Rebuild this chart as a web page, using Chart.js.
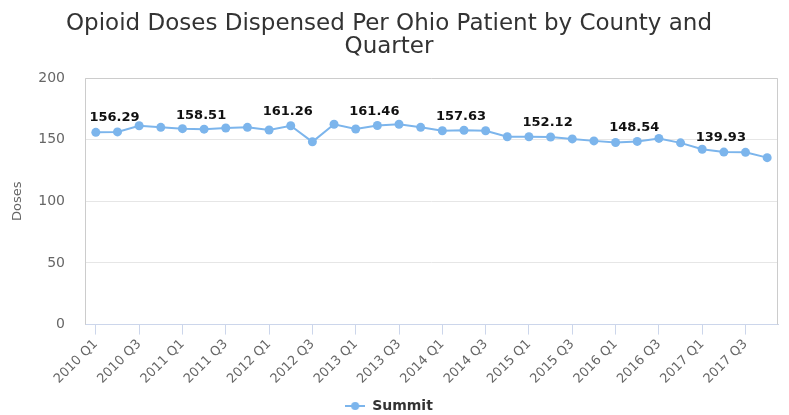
<!DOCTYPE html>
<html lang="en">
<head>
    <meta charset="UTF-8">
    <script src="https://cdn.jsdelivr.net/npm/chart.js@4.4.0/dist/chart.umd.min.js"></script>
    <title>Opioid Doses</title>
    <style>
        body { margin: 0; background: #fff; }
        #wrap { width: 789px; height: 415px; }
    </style>
</head>
<body>
<div id="wrap"><canvas id="container"></canvas></div>

<script>
    const quarters = [
        '2010 Q1', '2010 Q2', '2010 Q3', '2010 Q4',
        '2011 Q1', '2011 Q2', '2011 Q3', '2011 Q4',
        '2012 Q1', '2012 Q2', '2012 Q3', '2012 Q4',
        '2013 Q1', '2013 Q2', '2013 Q3', '2013 Q4',
        '2014 Q1', '2014 Q2', '2014 Q3', '2014 Q4',
        '2015 Q1', '2015 Q2', '2015 Q3', '2015 Q4',
        '2016 Q1', '2016 Q2', '2016 Q3', '2016 Q4',
        '2017 Q1', '2017 Q2', '2017 Q3', '2017 Q4'
    ];
    const summit = [
        155.9, 156.29, 161.3, 160.0,
        158.9, 158.51, 159.4, 160.0,
        157.8, 161.26, 148.2, 162.5,
        158.6, 161.46, 162.5, 160.0,
        157.2, 157.63, 157.2, 152.3,
        152.3, 152.12, 150.6, 149.0,
        147.7, 148.54, 151.0, 147.4,
        142.2, 139.93, 139.7, 135.4
    ];
    // quarters that carry a value label above the point
    const labelledQuarters = ['2010 Q2', '2011 Q2', '2012 Q2', '2013 Q2', '2014 Q2', '2015 Q2', '2016 Q2', '2017 Q2'];
    const yTicks = [0, 50, 100, 150, 200];

    const lineColor = '#7cb5ec';
    const font = 'DejaVu Sans';

    // legend symbol: short line with a dot, like the original
    const legendIcon = document.createElement('canvas');
    legendIcon.width = 20;
    legendIcon.height = 10;
    const ic = legendIcon.getContext('2d');
    ic.strokeStyle = lineColor;
    ic.lineWidth = 2;
    ic.beginPath();
    ic.moveTo(0, 5);
    ic.lineTo(20, 5);
    ic.stroke();
    ic.fillStyle = lineColor;
    ic.beginPath();
    ic.arc(10, 5, 4, 0, Math.PI * 2);
    ic.fill();

    const plotBox = {
        id: 'plotBox',
        beforeDatasetsDraw(chart) {
            const a = chart.chartArea;
            const c = chart.ctx;
            c.save();
            c.strokeStyle = '#cccccc';
            c.lineWidth = 1;
            c.beginPath();
            c.moveTo(a.left + 0.5, a.bottom);
            c.lineTo(a.left + 0.5, a.top + 0.5);
            c.lineTo(a.right - 0.5, a.top + 0.5);
            c.lineTo(a.right - 0.5, a.bottom);
            c.stroke();
            c.restore();
        }
    };

    const valueLabels = {
        id: 'valueLabels',
        afterDatasetsDraw(chart) {
            const meta = chart.getDatasetMeta(0);
            const c = chart.ctx;
            c.save();
            c.font = 'bold 13px ' + font;
            c.fillStyle = '#111';
            c.textAlign = 'center';
            c.textBaseline = 'middle';
            labelledQuarters.forEach(q => {
                const i = quarters.indexOf(q);
                const pt = meta.data[i];
                c.fillText(summit[i].toFixed(2), pt.x - 3, pt.y - 14);
            });
            c.restore();
        }
    };

    const ctx = document.getElementById('container').getContext('2d');
    const myChart = new Chart(ctx, {
        type: 'line',
        data: {
            labels: quarters,
            datasets: [{
                label: 'Summit',
                data: summit,
                borderColor: lineColor,
                backgroundColor: lineColor,
                borderWidth: 2,
                pointRadius: 4.5,
                pointHoverRadius: 5,
                pointBorderWidth: 0,
                tension: 0
            }]
        },
        options: {
            responsive: true,
            maintainAspectRatio: false,
            animation: false,
            layout: { padding: { left: 0, right: 11, top: 0, bottom: -8 } },
            plugins: {
                title: {
                    display: true,
                    text: ['Opioid Doses Dispensed Per Ohio Patient by County and', 'Quarter'],
                    color: '#333333',
                    font: { family: font, size: 23, weight: 'normal', lineHeight: 1.0 },
                    padding: { top: 13, bottom: 19 }
                },
                legend: {
                    position: 'bottom',
                    labels: {
                        usePointStyle: true,
                        pointStyle: legendIcon,
                        pointStyleWidth: 20,
                        color: '#333333',
                        font: { family: font, size: 14, weight: 'bold' },
                        padding: 2
                    }
                },
                tooltip: { enabled: false }
            },
            scales: {
                x: {
                    offset: true,
                    grid: {
                        drawOnChartArea: false,
                        drawTicks: true,
                        tickLength: 10,
                        tickColor: c => (c.index % 2 === 0 ? '#ccd6eb' : 'rgba(0,0,0,0)')
                    },
                    border: { color: '#ccd6eb', width: 1 },
                    ticks: {
                        autoSkip: false,
                        maxRotation: 45,
                        minRotation: 45,
                        color: '#666666',
                        font: { family: font, size: 13 },
                        padding: 2,
                        callback: function (value, index) {
                            return index % 2 === 0 ? this.getLabelForValue(value) : '';
                        }
                    },
                    // empty title only used as spacing above the legend
                    title: {
                        display: true,
                        text: ' ',
                        font: { size: 5, lineHeight: 1 },
                        padding: { top: 0, bottom: 3 }
                    }
                },
                y: {
                    min: 0,
                    max: 200,
                    afterBuildTicks: axis => { axis.ticks = yTicks.map(v => ({ value: v })); },
                    afterFit: axis => { axis.width = 85; },
                    grid: { color: '#e6e6e6', drawTicks: false },
                    border: { display: false },
                    ticks: {
                        color: '#666666',
                        font: { family: font, size: 14 },
                        padding: 20
                    },
                    title: {
                        display: true,
                        text: 'Doses',
                        color: '#666666',
                        font: { family: font, size: 13 },
                        padding: { top: 10, bottom: 0 }
                    }
                }
            }
        },
        plugins: [plotBox, valueLabels]
    });
</script>
</body>
</html>
